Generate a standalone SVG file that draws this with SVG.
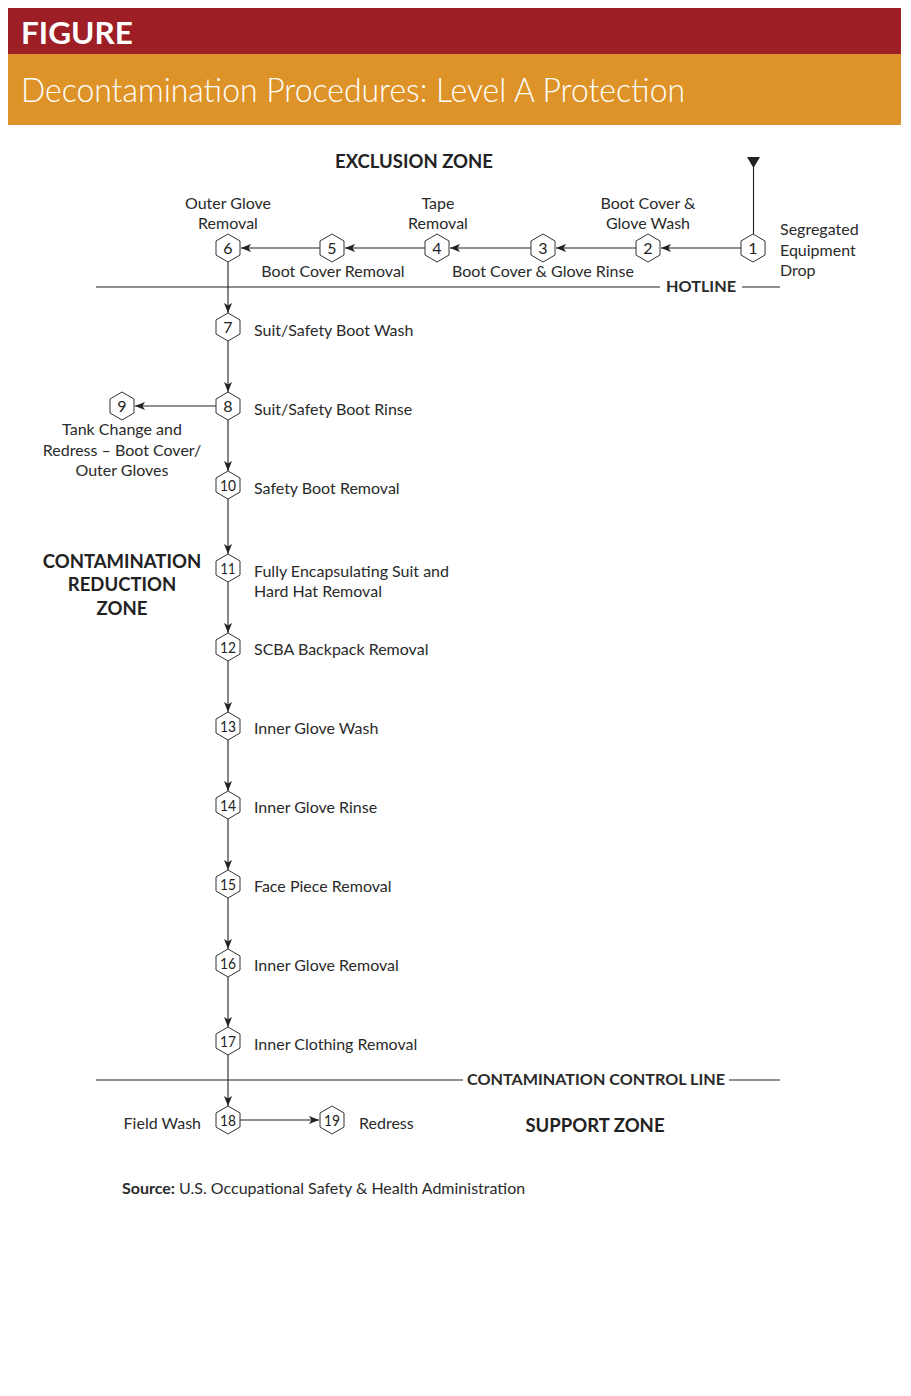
<svg xmlns="http://www.w3.org/2000/svg" xmlns:xlink="http://www.w3.org/1999/xlink" width="911" height="1396" viewBox="0 0 911 1396">
<style>
.t{font-family:Lato,"Open Sans","Liberation Sans",sans-serif;font-size:16px;fill:#2a2a2a}
.m{text-anchor:middle}
.e{text-anchor:end}
.b{font-weight:bold}
.z{font-family:Lato,"Open Sans","Liberation Sans",sans-serif;font-size:18.5px;font-weight:bold;fill:#222;text-anchor:middle}
.n{font-family:Lato,"Liberation Sans",sans-serif;font-size:16px;fill:#222;text-anchor:middle}
.hx{fill:#fff;stroke:#333;stroke-width:1}
.ln{stroke:#222;stroke-width:1.1;fill:none}
.ar{stroke:#222;stroke-width:1.1;fill:none;marker-end:url(#ah)}
</style>
<defs>
<marker id="ah" markerUnits="userSpaceOnUse" markerWidth="11" markerHeight="8" refX="10" refY="4" orient="auto">
<path d="M0,0 L10,4 L0,8 L2.5,4 z" fill="#222"/>
</marker>
<polygon id="hex" points="0,-14 12,-7 12,7 0,14 -12,7 -12,-7"/>
</defs>
<rect width="911" height="1396" fill="#fff"/>
<g id="header">
<rect x="8" y="8" width="893" height="46" fill="#9d1e24"/>
<rect x="8" y="54" width="893" height="71" fill="#de9328"/>
<text x="21" y="44" font-family="Lato,'Open Sans',sans-serif" font-weight="bold" font-size="31" fill="#fff" textLength="112" lengthAdjust="spacingAndGlyphs">FIGURE</text>
<text x="21" y="102" font-family="Lato,'Open Sans',sans-serif" font-weight="300" font-size="33" fill="#fff" textLength="664" lengthAdjust="spacingAndGlyphs">Decontamination Procedures: Level A Protection</text>
</g>
<g id="zones">
<text class="z" x="414" y="168">EXCLUSION ZONE</text>
<text class="z" x="122" y="568">CONTAMINATION</text>
<text class="z" x="122" y="591">REDUCTION</text>
<text class="z" x="122" y="615">ZONE</text>
<text class="z" x="595" y="1132">SUPPORT ZONE</text>
</g>
<g id="hotline">
<line class="ln" x1="96" y1="287" x2="660" y2="287"/>
<text class="t b m" x="701" y="292" textLength="70" lengthAdjust="spacingAndGlyphs">HOTLINE</text>
<line class="ln" x1="742" y1="287" x2="780" y2="287"/>
</g>
<g id="control-line">
<line class="ln" x1="96" y1="1080" x2="463" y2="1080"/>
<text class="t b m" x="596" y="1085" textLength="258" lengthAdjust="spacingAndGlyphs">CONTAMINATION CONTROL LINE</text>
<line class="ln" x1="729" y1="1080" x2="780" y2="1080"/>
</g>
<g id="connectors">
<polygon points="747,157 760,157 753.5,168" fill="#222"/>
<line class="ln" x1="753.5" y1="164" x2="753.5" y2="234"/>
<line class="ar" x1="741" y1="248" x2="661" y2="248"/>
<line class="ar" x1="636" y1="248" x2="556" y2="248"/>
<line class="ar" x1="531" y1="248" x2="450" y2="248"/>
<line class="ar" x1="425" y1="248" x2="345" y2="248"/>
<line class="ar" x1="320" y1="248" x2="241" y2="248"/>
<line class="ar" x1="228" y1="262" x2="228" y2="313"/>
<line class="ar" x1="228" y1="341" x2="228" y2="392"/>
<line class="ar" x1="216" y1="406" x2="135" y2="406"/>
<line class="ar" x1="228" y1="420" x2="228" y2="471"/>
<line class="ar" x1="228" y1="499" x2="228" y2="554"/>
<line class="ar" x1="228" y1="582" x2="228" y2="633"/>
<line class="ar" x1="228" y1="661" x2="228" y2="712"/>
<line class="ar" x1="228" y1="740" x2="228" y2="791"/>
<line class="ar" x1="228" y1="819" x2="228" y2="870"/>
<line class="ar" x1="228" y1="898" x2="228" y2="949"/>
<line class="ar" x1="228" y1="977" x2="228" y2="1027"/>
<line class="ar" x1="228" y1="1055" x2="228" y2="1106"/>
<line class="ar" x1="240" y1="1120" x2="319" y2="1120"/>
</g>
<g id="node1"><use xlink:href="#hex" class="hx" x="753" y="248"/><text class="n" x="753" y="254">1</text>
<text class="t" x="780" y="235">Segregated</text><text class="t" x="780" y="256">Equipment</text><text class="t" x="780" y="276">Drop</text></g>
<g id="node2"><use xlink:href="#hex" class="hx" x="648" y="248"/><text class="n" x="648" y="254">2</text>
<text class="t m" x="648" y="209">Boot Cover &amp;</text><text class="t m" x="648" y="229">Glove Wash</text></g>
<g id="node3"><use xlink:href="#hex" class="hx" x="543" y="248"/><text class="n" x="543" y="254">3</text>
<text class="t m" x="543" y="277">Boot Cover &amp; Glove Rinse</text></g>
<g id="node4"><use xlink:href="#hex" class="hx" x="437" y="248"/><text class="n" x="437" y="254">4</text>
<text class="t m" x="438" y="209">Tape</text><text class="t m" x="438" y="229">Removal</text></g>
<g id="node5"><use xlink:href="#hex" class="hx" x="332" y="248"/><text class="n" x="332" y="254">5</text>
<text class="t m" x="333" y="277">Boot Cover Removal</text></g>
<g id="node6"><use xlink:href="#hex" class="hx" x="228" y="248"/><text class="n" x="228" y="254">6</text>
<text class="t m" x="228" y="209">Outer Glove</text><text class="t m" x="228" y="229">Removal</text></g>
<g id="node7"><use xlink:href="#hex" class="hx" x="228" y="327"/><text class="n" x="228" y="333">7</text>
<text class="t" x="254" y="336">Suit/Safety Boot Wash</text></g>
<g id="node8"><use xlink:href="#hex" class="hx" x="228" y="406"/><text class="n" x="228" y="412">8</text>
<text class="t" x="254" y="415">Suit/Safety Boot Rinse</text></g>
<g id="node9"><use xlink:href="#hex" class="hx" x="122" y="406"/><text class="n" x="122" y="412">9</text>
<text class="t m" x="122" y="435">Tank Change and</text><text class="t m" x="122" y="456">Redress – Boot Cover/</text><text class="t m" x="122" y="476">Outer Gloves</text></g>
<g id="node10"><use xlink:href="#hex" class="hx" x="228" y="485"/><text class="n" x="228" y="491" textLength="16" lengthAdjust="spacingAndGlyphs">10</text>
<text class="t" x="254" y="494">Safety Boot Removal</text></g>
<g id="node11"><use xlink:href="#hex" class="hx" x="228" y="568"/><text class="n" x="228" y="574" textLength="15" lengthAdjust="spacingAndGlyphs">11</text>
<text class="t" x="254" y="577">Fully Encapsulating Suit and</text><text class="t" x="254" y="597">Hard Hat Removal</text></g>
<g id="node12"><use xlink:href="#hex" class="hx" x="228" y="647"/><text class="n" x="228" y="653" textLength="16" lengthAdjust="spacingAndGlyphs">12</text>
<text class="t" x="254" y="655">SCBA Backpack Removal</text></g>
<g id="node13"><use xlink:href="#hex" class="hx" x="228" y="726"/><text class="n" x="228" y="732" textLength="16" lengthAdjust="spacingAndGlyphs">13</text>
<text class="t" x="254" y="734">Inner Glove Wash</text></g>
<g id="node14"><use xlink:href="#hex" class="hx" x="228" y="805"/><text class="n" x="228" y="811" textLength="16" lengthAdjust="spacingAndGlyphs">14</text>
<text class="t" x="254" y="813">Inner Glove Rinse</text></g>
<g id="node15"><use xlink:href="#hex" class="hx" x="228" y="884"/><text class="n" x="228" y="890" textLength="16" lengthAdjust="spacingAndGlyphs">15</text>
<text class="t" x="254" y="892">Face Piece Removal</text></g>
<g id="node16"><use xlink:href="#hex" class="hx" x="228" y="963"/><text class="n" x="228" y="969" textLength="16" lengthAdjust="spacingAndGlyphs">16</text>
<text class="t" x="254" y="971">Inner Glove Removal</text></g>
<g id="node17"><use xlink:href="#hex" class="hx" x="228" y="1041"/><text class="n" x="228" y="1047" textLength="16" lengthAdjust="spacingAndGlyphs">17</text>
<text class="t" x="254" y="1050">Inner Clothing Removal</text></g>
<g id="node18"><use xlink:href="#hex" class="hx" x="228" y="1120"/><text class="n" x="228" y="1126" textLength="16" lengthAdjust="spacingAndGlyphs">18</text>
<text class="t e" x="201" y="1129">Field Wash</text></g>
<g id="node19"><use xlink:href="#hex" class="hx" x="332" y="1120"/><text class="n" x="332" y="1126" textLength="16" lengthAdjust="spacingAndGlyphs">19</text>
<text class="t" x="359" y="1129">Redress</text></g>
<g id="source"><text class="t" x="122" y="1194"><tspan class="b">Source:</tspan> U.S. Occupational Safety &amp; Health Administration</text></g>
</svg>
